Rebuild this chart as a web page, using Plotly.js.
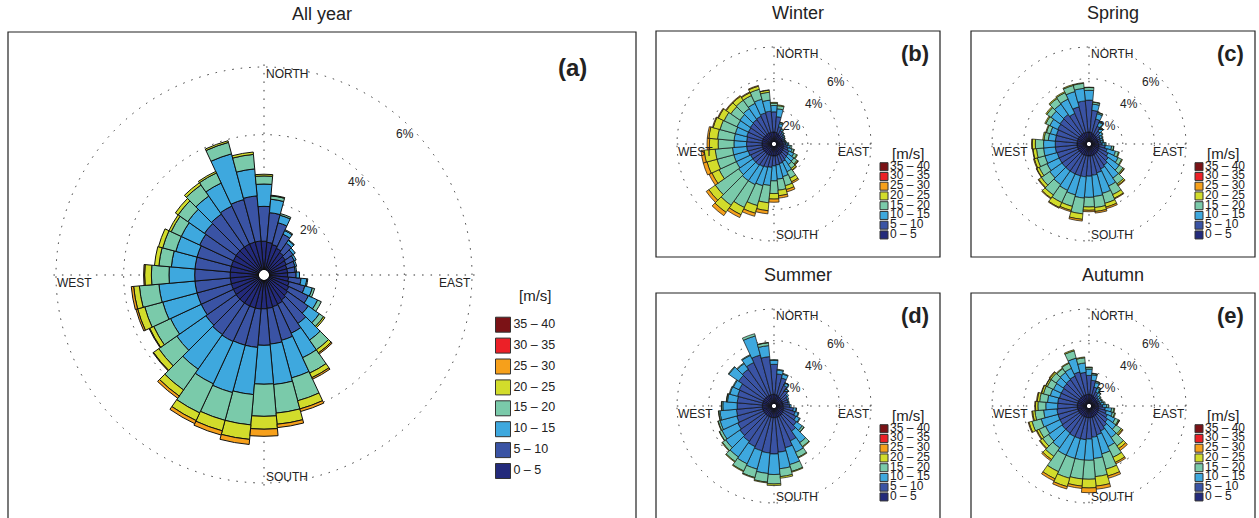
<!DOCTYPE html>
<html>
<head>
<meta charset="utf-8">
<script src="https://cdn.plot.ly/plotly-3.0.1.min.js"></script>
<style>
html,body{margin:0;padding:0;background:#fff;}
#chart{width:1259px;height:518px;}
</style>
</head>
<body>
<div id="chart"></div>
<script>
// ---------- categories / labels ----------
const DIRECTIONS = [0,10,20,30,40,50,60,70,80,90,100,110,120,130,140,150,160,170,180,190,200,210,220,230,240,250,260,270,280,290,300,310,320,330,340,350];
const SPEED_CLASSES = ['0 – 5','5 – 10','10 – 15','15 – 20','20 – 25','25 – 30','30 – 35','35 – 40'];
const CLASS_COLORS = ['#232a7b','#3a53a4','#3ea8de','#7acaaa','#d2dc2b','#f6a01b','#ec2027','#7b1216'];
const RING_VALUES = [2,4,6];
const RING_LABELS = ['2%','4%','6%'];
const COMPASS_LABELS = ['NORTH','EAST','SOUTH','WEST'];
const UNIT_LABEL = '[m/s]';

// ---------- (a) All year : frequency [%] per direction, per speed class ----------
const allYear_0_5   = [0.85,0.82,0.78,0.72,0.66,0.62,0.58,0.55,0.55,0.55,0.58,0.62,0.66,0.70,0.75,0.80,0.82,0.84,0.85,0.86,0.86,0.86,0.86,0.86,0.85,0.85,0.85,0.85,0.85,0.85,0.85,0.86,0.86,0.86,0.86,0.86];
const allYear_5_10  = [1.03,0.88,0.67,0.46,0.34,0.28,0.26,0.25,0.23,0.25,0.37,0.48,0.64,0.75,0.85,0.95,1.03,1.06,1.08,1.14,1.14,1.16,1.14,1.09,1.05,1.05,1.05,1.05,1.05,1.05,1.10,1.14,1.19,1.24,1.30,1.34];
const allYear_10_15 = [0.66,0.40,0.23,0.12,0.10,0.08,0.06,0.05,0.04,0.10,0.17,0.23,0.30,0.40,0.60,0.80,1.15,1.20,1.15,1.40,1.45,1.38,1.25,1.05,1.00,1.05,1.07,0.76,0.70,0.65,0.60,0.60,0.65,0.75,1.40,0.80];
const allYear_15_20 = [0.24,0.10,0.05,0.03,0.02,0,0,0,0,0,0.03,0.07,0.12,0.15,0.35,0.50,0.70,0.85,0.95,0.90,0.85,0.95,0.75,0.65,0.55,0.55,0.58,0.52,0.37,0.40,0.33,0.35,0.40,0.33,0.35,0.43];
const allYear_20_25 = [0.05,0.02,0,0,0,0,0,0,0,0,0,0,0,0.05,0.11,0.15,0.25,0.33,0.38,0.43,0.32,0.25,0.22,0.19,0.13,0.22,0.17,0.20,0.13,0.13,0.07,0.10,0.08,0.05,0.05,0.07];
const allYear_25_30 = [0,0,0,0,0,0,0,0,0,0,0,0,0,0,0.04,0.05,0.08,0.10,0.21,0.15,0.13,0.10,0.08,0.02,0.02,0.05,0.07,0.03,0,0,0,0,0,0,0,0];

// ---------- (b) Winter ----------
const winter_0_5   = [0.62,0.60,0.55,0.50,0.48,0.45,0.42,0.42,0.42,0.45,0.48,0.50,0.52,0.55,0.58,0.60,0.60,0.62,0.62,0.62,0.62,0.62,0.62,0.62,0.62,0.62,0.62,0.62,0.62,0.62,0.62,0.62,0.62,0.62,0.62,0.62];
const winter_5_10  = [1.28,1.00,0.45,0.30,0.20,0.15,0.13,0.10,0.13,0.17,0.24,0.30,0.38,0.40,0.42,0.50,0.55,0.58,0.63,0.73,0.78,0.83,0.88,0.88,0.88,0.93,0.98,0.98,0.98,1.03,1.03,1.08,1.13,1.18,1.28,1.33];
const winter_10_15 = [0.40,0.50,0.20,0.10,0.08,0.08,0.07,0.06,0.07,0.13,0.18,0.25,0.35,0.45,0.45,0.70,0.85,0.90,0.95,1.15,1.20,1.25,1.20,1.10,1.00,0.95,0.90,0.80,0.80,0.75,0.80,0.80,0.85,0.90,0.90,0.70];
const winter_15_20 = [0.15,0.20,0.08,0.05,0.04,0.02,0.03,0.02,0.03,0.05,0.10,0.12,0.20,0.25,0.30,0.45,0.60,0.70,0.80,1.10,1.30,1.60,1.90,1.80,1.20,1.10,1.10,1.00,1.05,1.00,0.90,0.70,0.65,0.55,0.65,0.50];
const winter_20_25 = [0.05,0.05,0.02,0,0,0,0,0,0,0,0,0.03,0.05,0.07,0.11,0.25,0.25,0.35,0.35,0.50,0.50,0.50,0.55,0.50,0.50,0.65,0.70,0.55,0.55,0.45,0.40,0.35,0.30,0.20,0.20,0.13];
const winter_25_30 = [0,0,0,0,0,0,0,0,0,0,0,0,0,0.03,0.04,0.10,0.15,0.15,0.20,0.20,0.20,0.20,0.25,0.20,0.20,0.25,0.20,0.15,0.10,0.05,0.05,0.05,0.05,0.05,0.05,0.02];

// ---------- (c) Spring ----------
const spring_0_5   = [0.62,0.60,0.55,0.52,0.50,0.48,0.45,0.45,0.45,0.47,0.50,0.52,0.55,0.57,0.60,0.60,0.62,0.62,0.62,0.62,0.62,0.62,0.62,0.62,0.62,0.62,0.62,0.62,0.62,0.62,0.62,0.62,0.62,0.62,0.62,0.62];
const spring_5_10  = [2.02,1.40,0.95,0.58,0.35,0.24,0.20,0.17,0.17,0.23,0.40,0.53,0.65,0.78,0.90,1.00,1.13,1.23,1.28,1.33,1.33,1.33,1.33,1.33,1.33,1.33,1.38,1.38,1.38,1.38,1.43,1.48,1.53,1.38,1.68,1.98];
const spring_10_15 = [0.62,0.40,0.35,0.28,0.23,0.18,0.15,0.14,0.14,0.18,0.40,0.55,0.70,0.85,1.00,1.20,1.35,1.35,1.34,1.35,1.25,1.15,1.05,0.95,0.85,0.80,0.75,0.74,0.45,0.40,0.55,0.70,0.80,1.00,1.00,0.80];
const spring_15_20 = [0.18,0.12,0.08,0.06,0.06,0.05,0.05,0.04,0.04,0.07,0.13,0.20,0.25,0.30,0.45,0.60,0.65,0.70,0.61,1.00,0.75,0.85,0.80,0.65,0.55,0.50,0.45,0.52,0.27,0.25,0.28,0.32,0.43,0.45,0.40,0.32];
const spring_20_25 = [0.02,0.02,0.02,0.01,0.01,0,0,0,0,0,0.02,0.05,0.05,0.08,0.10,0.25,0.25,0.25,0.21,0.35,0.27,0.35,0.25,0.20,0.17,0.20,0.22,0.19,0.08,0.05,0.07,0.08,0.07,0.07,0.06,0.04];
const spring_25_30 = [0,0,0,0,0,0,0,0,0,0,0,0,0,0.02,0.05,0.05,0.10,0.10,0.09,0.11,0.08,0.05,0.05,0.05,0.03,0.05,0.03,0.05,0,0,0,0,0,0,0,0];

// ---------- (d) Summer ----------
const summer_0_5   = [0.60,0.58,0.55,0.50,0.48,0.46,0.45,0.44,0.44,0.45,0.48,0.50,0.52,0.55,0.57,0.58,0.60,0.60,0.60,0.60,0.60,0.60,0.60,0.60,0.60,0.60,0.60,0.60,0.60,0.60,0.60,0.60,0.60,0.60,0.60,0.60];
const summer_5_10  = [1.90,1.32,1.15,0.80,0.57,0.44,0.35,0.34,0.34,0.40,0.62,0.75,0.88,1.05,1.23,1.72,2.00,2.20,2.30,2.25,2.20,2.10,2.00,1.90,1.80,1.70,1.65,1.60,1.60,1.65,1.70,2.00,2.10,2.30,2.60,2.40];
const summer_10_15 = [0.25,0.25,0.25,0.18,0.13,0.10,0.10,0.07,0.07,0.10,0.18,0.20,0.25,0.45,0.90,0.80,1.10,1.05,1.30,1.30,1.20,1.20,1.20,1.10,1.10,1.10,1.05,0.90,0.62,0.50,0.40,0.75,0.45,0.50,1.25,0.70];
const summer_15_20 = [0.05,0.05,0.05,0.02,0.02,0,0,0,0,0,0.02,0.05,0.05,0.13,0.30,0.35,0.45,0.50,0.60,0.55,0.55,0.50,0.35,0.25,0.17,0.12,0.08,0.08,0.06,0.05,0.05,0.05,0.05,0.05,0.15,0.18];
const summer_20_25 = [0,0,0,0,0,0,0,0,0,0,0,0,0,0.02,0.05,0.05,0.05,0.10,0.10,0.05,0.05,0.05,0.05,0.05,0.03,0.03,0.02,0.02,0.02,0,0,0,0,0,0,0.02];

// ---------- (e) Autumn ----------
const autumn_0_5   = [0.60,0.58,0.55,0.50,0.48,0.45,0.43,0.43,0.44,0.46,0.48,0.50,0.52,0.55,0.57,0.58,0.60,0.60,0.60,0.60,0.60,0.60,0.60,0.60,0.60,0.60,0.60,0.60,0.60,0.60,0.60,0.60,0.60,0.60,0.60,0.60];
const autumn_5_10  = [1.20,0.92,0.55,0.35,0.22,0.15,0.12,0.14,0.18,0.26,0.42,0.50,0.63,0.75,0.88,1.02,1.15,1.25,1.35,1.40,1.40,1.40,1.35,1.35,1.30,1.30,1.30,1.25,1.25,1.20,1.20,1.25,1.30,1.35,1.50,1.40];
const autumn_10_15 = [0.40,0.35,0.30,0.25,0.18,0.14,0.15,0.16,0.20,0.26,0.40,0.40,0.55,0.65,0.85,1.10,1.25,1.35,1.35,1.30,1.30,1.30,1.15,1.05,1.00,1.10,0.85,0.75,0.65,0.60,0.55,0.55,0.55,0.55,0.90,0.60];
const autumn_15_20 = [0.10,0.08,0.08,0.08,0.06,0.06,0.05,0.07,0.08,0.12,0.15,0.15,0.22,0.40,0.65,0.75,1.00,1.15,1.20,1.20,1.30,1.15,0.65,0.45,0.45,0.60,0.55,0.50,0.50,0.45,0.43,0.40,0.30,0.35,0.48,0.33];
const autumn_20_25 = [0.03,0.02,0.02,0.02,0.01,0,0,0,0,0,0.05,0.05,0.06,0.10,0.20,0.35,0.45,0.60,0.55,0.45,0.55,0.50,0.25,0.20,0.15,0.20,0.15,0.15,0.15,0.12,0.10,0.10,0.05,0.05,0.07,0.05];
const autumn_25_30 = [0,0,0,0,0,0,0,0,0,0,0,0,0.02,0.05,0.15,0.10,0.15,0.20,0.30,0.15,0.15,0.15,0.10,0.05,0.05,0.05,0.05,0.05,0.05,0.03,0.02,0.05,0,0,0,0];

// ---------- layout of the page ----------
const W = 1259, H = 518;
const FONT = '"Liberation Sans", Arial, Helvetica, sans-serif';
const RMAX = 6.1;

const PANELS = [
  {id:'polar',  title:'All year', tag:'(a)', big:true,  cx:264,  cy:275, R:208, frame:[8,32,636,560],
   series:[allYear_0_5,allYear_5_10,allYear_10_15,allYear_15_20,allYear_20_25,allYear_25_30]},
  {id:'polar2', title:'Winter',   tag:'(b)', big:false, cx:774,  cy:144, R:97,  frame:[656,31,940,257],
   series:[winter_0_5,winter_5_10,winter_10_15,winter_15_20,winter_20_25,winter_25_30]},
  {id:'polar3', title:'Spring',   tag:'(c)', big:false, cx:1089, cy:144, R:97,  frame:[971,31,1255,257],
   series:[spring_0_5,spring_5_10,spring_10_15,spring_15_20,spring_20_25,spring_25_30]},
  {id:'polar4', title:'Summer',   tag:'(d)', big:false, cx:774,  cy:406, R:97,  frame:[656,293,940,560],
   series:[summer_0_5,summer_5_10,summer_10_15,summer_15_20,summer_20_25]},
  {id:'polar5', title:'Autumn',   tag:'(e)', big:false, cx:1089, cy:406, R:97,  frame:[971,293,1255,560],
   series:[autumn_0_5,autumn_5_10,autumn_10_15,autumn_15_20,autumn_20_25,autumn_25_30]}
];

const traces = [], annotations = [], shapes = [];
const layout = {
  width: W, height: H,
  margin: {l:0, r:0, t:0, b:0},
  paper_bgcolor: '#ffffff', plot_bgcolor: 'rgba(0,0,0,0)',
  showlegend: false,
  font: {family: FONT, color: '#222', size: 12},
  xaxis: {domain:[0,1], range:[0,W], visible:false, fixedrange:true},
  yaxis: {domain:[0,1], range:[H,0], visible:false, fixedrange:true},
  annotations: annotations, shapes: shapes
};

function txt(x, y, text, size, opts) {
  return Object.assign({x:x, y:y, xref:'x', yref:'y', text:text, showarrow:false,
    font:{family:FONT, size:size, color:'#222'}, xanchor:'center', yanchor:'middle', borderpad:0}, opts || {});
}

PANELS.forEach(p => {
  const holeFrac = p.big ? 0.024 : 0.022;
  // radius of the domain so that the 6 % ring lands on p.R
  const Rd = p.R / (holeFrac + (6 / RMAX) * (1 - holeFrac));
  const rpx = v => Rd * holeFrac + (v / RMAX) * Rd * (1 - holeFrac);
  const dash = '1.5px,7px';
  layout[p.id] = {
    domain: {x:[(p.cx - Rd) / W, (p.cx + Rd) / W], y:[(H - p.cy - Rd) / H, (H - p.cy + Rd) / H]},
    hole: holeFrac,
    bgcolor: 'rgba(0,0,0,0)',
    bargap: 0,
    barmode: 'stack',
    radialaxis: {range:[0, RMAX], tickvals: RING_VALUES, showticklabels:false, ticks:'', showline:false,
                 gridcolor:'#333', gridwidth:1.4, griddash:dash},
    angularaxis: {rotation:90, direction:'clockwise', tickvals:[0,90,180,270], showticklabels:false, ticks:'',
                  showline:false, gridcolor:'#333', gridwidth:1.4, griddash:dash}
  };

  p.series.forEach((vals, i) => {
    traces.push({
      type:'barpolar', subplot:p.id, r:vals, theta:DIRECTIONS, name:SPEED_CLASSES[i],
      marker:{color:CLASS_COLORS[i], line:{color:'#111', width:p.big ? 1 : 0.7}},
      hoverinfo:'skip', showlegend:false
    });
  });

  // frame and titles
  const f = p.frame;
  shapes.push({type:'rect', xref:'x', yref:'y', x0:f[0], y0:f[1], x1:f[2], y1:f[3],
               line:{color:'#222', width:1.2}, fillcolor:'rgba(0,0,0,0)', layer:'below'});
  annotations.push(txt((f[0] + f[2]) / 2, f[1] - 18, p.title, 18));
  annotations.push(txt(f[2] - (p.big ? 64 : 25), f[1] + (p.big ? 35 : 22), '<b>' + p.tag + '</b>', p.big ? 24 : 22));

  // compass labels (inside the outer ring)
  annotations.push(txt(p.cx + 1, p.cy - p.R + 7, COMPASS_LABELS[0], 12, {xanchor:'left'}));
  annotations.push(txt(p.cx + p.R, p.cy + 8, COMPASS_LABELS[1], 12, {xanchor:'right'}));
  annotations.push(txt(p.cx + 1, p.cy + p.R - 6, COMPASS_LABELS[2], 12, {xanchor:'left'}));
  annotations.push(txt(p.cx - p.R, p.cy + 8, COMPASS_LABELS[3], 12, {xanchor:'left'}));

  // ring labels along the NE direction
  RING_VALUES.forEach((v, k) => {
    const rr = rpx(v) - 9;
    annotations.push(txt(p.cx + rr * Math.SQRT1_2, p.cy - rr * Math.SQRT1_2, RING_LABELS[k], 12));
  });

  // legend (colour key) for this panel
  const lg = p.big
    ? {sx: p.cx + 239, top: p.cy + 49.7, step: 20.9, size: 15, font: 12.5, tx: p.cx + 271, ty: p.cy + 20}
    : {sx: p.cx + 110, top: p.cy + 22.7, step: 9.75, size: 8, font: 12, tx: p.cx + 134, ty: p.cy + 9};
  const n = SPEED_CLASSES.length;
  traces.push({
    type:'scatter', mode:'markers+text', xaxis:'x', yaxis:'y', cliponaxis:false,
    x: SPEED_CLASSES.map(() => lg.sx),
    y: SPEED_CLASSES.map((_, i) => lg.top + (n - 1 - i) * lg.step),
    text: SPEED_CLASSES, textposition:'middle right',
    textfont:{family:FONT, size:lg.font, color:'#222'},
    marker:{symbol:'square', size:lg.size, color:CLASS_COLORS, line:{color:'#333', width:1}},
    hoverinfo:'skip', showlegend:false
  });
  annotations.push(txt(lg.tx, lg.ty, UNIT_LABEL, 15));
});

Plotly.newPlot('chart', traces, layout, {displayModeBar:false, responsive:false});
</script>
</body>
</html>
